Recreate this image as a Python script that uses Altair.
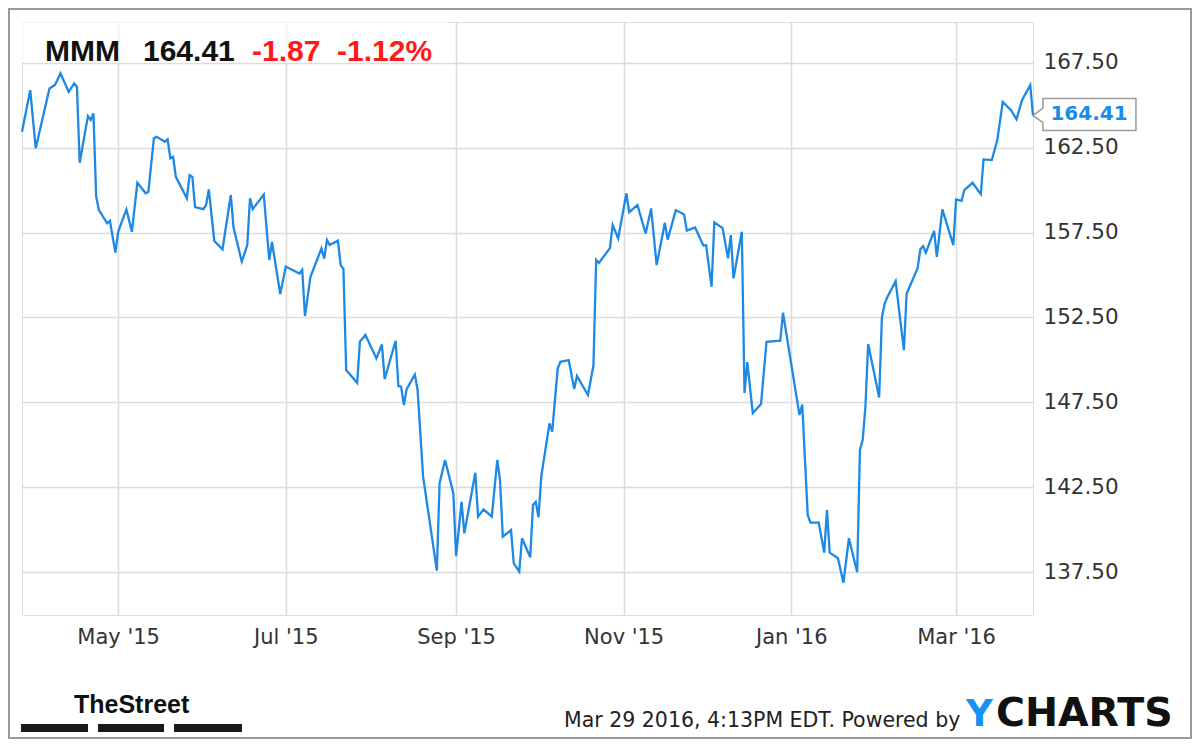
import altair as alt
import pandas as pd

# ---- data (MMM daily close, Mar 2015 - Mar 2016) ----
dates = [
    "2015-03-27", "2015-03-30", "2015-04-01", "2015-04-06", "2015-04-08", "2015-04-10",
    "2015-04-13", "2015-04-15", "2015-04-16", "2015-04-17", "2015-04-20", "2015-04-21",
    "2015-04-22", "2015-04-23", "2015-04-24", "2015-04-27", "2015-04-28", "2015-04-30",
    "2015-05-01", "2015-05-04", "2015-05-06", "2015-05-08", "2015-05-11", "2015-05-12",
    "2015-05-14", "2015-05-15", "2015-05-18", "2015-05-19", "2015-05-20", "2015-05-21",
    "2015-05-22", "2015-05-26", "2015-05-27", "2015-05-28", "2015-05-29", "2015-06-01",
    "2015-06-02", "2015-06-03", "2015-06-05", "2015-06-08", "2015-06-11", "2015-06-12",
    "2015-06-15", "2015-06-17", "2015-06-18", "2015-06-19", "2015-06-23", "2015-06-25",
    "2015-06-26", "2015-06-29", "2015-07-01", "2015-07-06", "2015-07-07", "2015-07-08",
    "2015-07-10", "2015-07-14", "2015-07-15", "2015-07-16", "2015-07-17", "2015-07-20",
    "2015-07-21", "2015-07-22", "2015-07-23", "2015-07-27", "2015-07-28", "2015-07-30",
    "2015-08-03", "2015-08-05", "2015-08-06", "2015-08-10", "2015-08-11", "2015-08-12",
    "2015-08-13", "2015-08-14", "2015-08-17", "2015-08-18", "2015-08-20", "2015-08-25",
    "2015-08-26", "2015-08-28", "2015-08-31", "2015-09-01", "2015-09-03", "2015-09-04",
    "2015-09-08", "2015-09-09", "2015-09-11", "2015-09-14", "2015-09-16", "2015-09-17",
    "2015-09-18", "2015-09-21", "2015-09-22", "2015-09-24", "2015-09-25", "2015-09-28",
    "2015-09-29", "2015-09-30", "2015-10-01", "2015-10-02", "2015-10-05", "2015-10-06",
    "2015-10-08", "2015-10-09", "2015-10-12", "2015-10-14", "2015-10-15", "2015-10-19",
    "2015-10-21", "2015-10-22", "2015-10-23", "2015-10-27", "2015-10-28", "2015-10-30",
    "2015-11-02", "2015-11-03", "2015-11-06", "2015-11-09", "2015-11-11", "2015-11-13",
    "2015-11-16", "2015-11-17", "2015-11-20", "2015-11-23", "2015-11-24", "2015-11-27",
    "2015-11-30", "2015-12-01", "2015-12-03", "2015-12-04", "2015-12-07", "2015-12-09",
    "2015-12-10", "2015-12-11", "2015-12-14", "2015-12-15", "2015-12-16", "2015-12-18",
    "2015-12-21", "2015-12-23", "2015-12-28", "2015-12-29", "2016-01-04", "2016-01-05",
    "2016-01-07", "2016-01-08", "2016-01-11", "2016-01-13", "2016-01-14", "2016-01-15",
    "2016-01-18", "2016-01-20", "2016-01-22", "2016-01-25", "2016-01-26", "2016-01-27",
    "2016-01-28", "2016-01-29", "2016-02-02", "2016-02-03", "2016-02-04", "2016-02-05",
    "2016-02-08", "2016-02-11", "2016-02-12", "2016-02-16", "2016-02-17", "2016-02-18",
    "2016-02-19", "2016-02-22", "2016-02-23", "2016-02-25", "2016-02-29", "2016-03-01",
    "2016-03-03", "2016-03-04", "2016-03-07", "2016-03-10", "2016-03-11", "2016-03-14",
    "2016-03-16", "2016-03-18", "2016-03-21", "2016-03-23", "2016-03-25", "2016-03-28",
    "2016-03-29",
]
prices = [
    163.45, 165.90, 162.47, 166.00, 166.20, 166.89,
    165.80, 166.30, 166.10, 161.62, 164.37, 164.14,
    164.53, 159.62, 158.83, 158.05, 158.20, 156.32,
    157.55, 158.87, 157.55, 160.44, 159.82, 159.91,
    163.06, 163.15, 162.86, 163.00, 161.88, 161.97,
    160.79, 159.52, 160.89, 160.78, 159.01, 158.89,
    159.13, 160.05, 157.01, 156.52, 159.72, 157.80,
    155.79, 156.77, 159.52, 158.89, 159.75, 155.89,
    156.95, 153.88, 155.50, 155.09, 155.30, 152.59,
    154.90, 156.57, 155.97, 157.06, 156.77, 157.03,
    155.59, 155.36, 149.40, 148.65, 151.07, 151.47,
    150.09, 150.91, 148.87, 151.13, 148.46, 148.42,
    147.34, 148.28, 149.14, 148.22, 143.12, 137.58,
    142.73, 144.10, 142.14, 138.44, 141.64, 139.78,
    143.35, 140.76, 141.19, 140.76, 144.10, 142.92,
    139.58, 139.97, 138.01, 137.52, 139.49, 138.37,
    141.45, 141.64, 140.72, 143.12, 146.26, 145.77,
    149.50, 149.89, 149.99, 148.28, 149.05, 147.93,
    149.67, 155.89, 155.71, 156.59, 157.95, 157.16,
    159.82, 158.71, 159.13, 157.45, 158.93, 155.59,
    158.08, 157.09, 158.83, 158.57, 157.62, 157.81,
    156.74, 156.77, 154.31, 158.11, 157.77, 155.99,
    157.36, 154.81, 157.55, 148.05, 149.87, 146.87,
    147.40, 151.07, 151.13, 152.78, 146.75, 147.37,
    140.86, 140.41, 140.41, 138.64, 141.15, 138.64,
    138.31, 136.87, 139.49, 137.48, 144.69, 145.28,
    147.24, 150.94, 147.79, 152.50, 153.31, 153.71,
    154.64, 150.58, 153.90, 155.40, 156.52, 156.71,
    156.32, 157.61, 156.08, 158.87, 156.77, 159.46,
    159.38, 160.01, 160.44, 159.77, 161.82, 161.78,
    162.96, 165.21, 164.72, 164.18, 165.31, 166.20,
    164.41,
]

y_ticks = [137.5, 142.5, 147.5, 152.5, 157.5, 162.5, 167.5]
x_ticks = [(2015, 5), (2015, 7), (2015, 9), (2015, 11), (2016, 1), (2016, 3)]

ticker = "MMM"
last_price = "164.41"
change = "-1.87"
change_pct = "-1.12%"
footer_note = "Mar 29 2016, 4:13PM EDT. Powered by"
brand_left = "TheStreet"
brand_y = "Y"
brand_rest = "CHARTS"

df = pd.DataFrame({"date": dates, "price": prices})
last = df.tail(1)
one = pd.DataFrame({"k": [0]})

BLUE = "#1e88e5"
W, H = 1011, 593

x_scale = alt.Scale(
    type="utc",
    domain=[alt.DateTime(year=2015, month=3, date=27, utc=True),
            alt.DateTime(year=2016, month=3, date=29, utc=True)],
)
y_scale = alt.Scale(domain=[134.966, 169.916], nice=False, zero=False)

x_enc = alt.X(
    "date:T", scale=x_scale, title=None,
    axis=alt.Axis(
        values=[alt.DateTime(year=yy, month=mm, date=1, utc=True) for yy, mm in x_ticks],
        labelExpr="utcFormat(datum.value, \"%b '%y\")",
        grid=True, domain=False, ticks=False,
        labelFont="DejaVu Sans", labelFontSize=21, labelColor="#333333",
        labelPadding=11, gridColor="#dcdcdc", gridWidth=1.5, labelFlush=False,
    ),
)
y_enc = alt.Y(
    "price:Q", scale=y_scale, title=None,
    axis=alt.Axis(
        orient="right", values=y_ticks, format=".2f", grid=True, domain=False,
        ticks=False, labelFont="DejaVu Sans", labelFontSize=21.5, labelColor="#333333",
        labelPadding=10, gridColor="#dcdcdc", gridWidth=1.5,
    ),
)

line = alt.Chart(df).mark_line(color=BLUE, strokeWidth=2.3).encode(x=x_enc, y=y_enc)

tag_path = ("M0,0 L0.096,-0.07 L0.096,-0.163 L0.99,-0.163 L0.99,0.144 "
            "L0.096,0.144 L0.096,0.07 Z")
tag = alt.Chart(last).mark_point(
    shape=tag_path, size=43264, filled=True, fill="white", stroke="#9a9a9a",
    strokeWidth=1.5, opacity=1,
).encode(x="date:T", y="price:Q")
tag_text = alt.Chart(last).mark_text(
    align="center", baseline="middle", dx=56, dy=-1, font="DejaVu Sans",
    fontWeight="bold", fontSize=20, color="#1a8ce8",
).encode(x="date:T", y="price:Q", text=alt.Text("price:Q", format=".2f"))


def txt(s, x, y, **kw):
    base = dict(align="left", baseline="alphabetic")
    base.update(kw)
    return alt.Chart(one).mark_text(**base).encode(
        x=alt.value(x), y=alt.value(y), text=alt.value(s))


def box(x, x2, y, y2, **kw):
    return alt.Chart(one).mark_rect(**kw).encode(
        x=alt.value(x), x2=alt.value(x2), y=alt.value(y), y2=alt.value(y2))


header_bg = box(0, 426, 0, 41, color="white", opacity=0.6)
hdr_font = dict(font="Liberation Sans", fontWeight="bold", fontSize=30)
header = [
    txt(ticker, 23, 39, color="#111111", **hdr_font),
    txt(last_price, 121, 39, color="#111111", **hdr_font),
    txt(change, 230, 39, color="#ff1a1a", **hdr_font),
    txt(change_pct, 315, 39, color="#ff1a1a", **hdr_font),
]

footer = [
    txt(brand_left, 52, 691, font="Liberation Sans", fontWeight="bold",
        fontSize=25, color="#111111"),
    box(-1, 66, 702, 710, color="#1a1a1a"),
    box(76, 142, 702, 710, color="#1a1a1a"),
    box(152, 220, 702, 710, color="#1a1a1a"),
    txt(footer_note, 542, 705, font="DejaVu Sans", fontSize=20.5, color="#222222"),
    txt(brand_y, 944, 704, font="DejaVu Sans", fontWeight="bold", fontSize=37,
        color="#1592f5"),
    txt(brand_rest, 974, 704, font="DejaVu Sans", fontWeight="bold", fontSize=39.5,
        color="#111111"),
]

frame = box(-13, 1169, -13, 716, fillOpacity=0, stroke="#9a9a9a", strokeWidth=2)

chart = alt.layer(
    header_bg, line, tag, tag_text, *header, *footer, frame
).properties(
    width=W, height=H,
    padding={"left": 14, "top": 14, "right": 159, "bottom": 124},
    autosize=alt.AutoSizeParams(type="none"),
).configure_view(
    stroke="#a0a0a0", strokeWidth=1.5, fill="#f6f6f6"
).configure(background="white")

chart.save("out.html", embed_options={"renderer": "svg", "actions": False})
